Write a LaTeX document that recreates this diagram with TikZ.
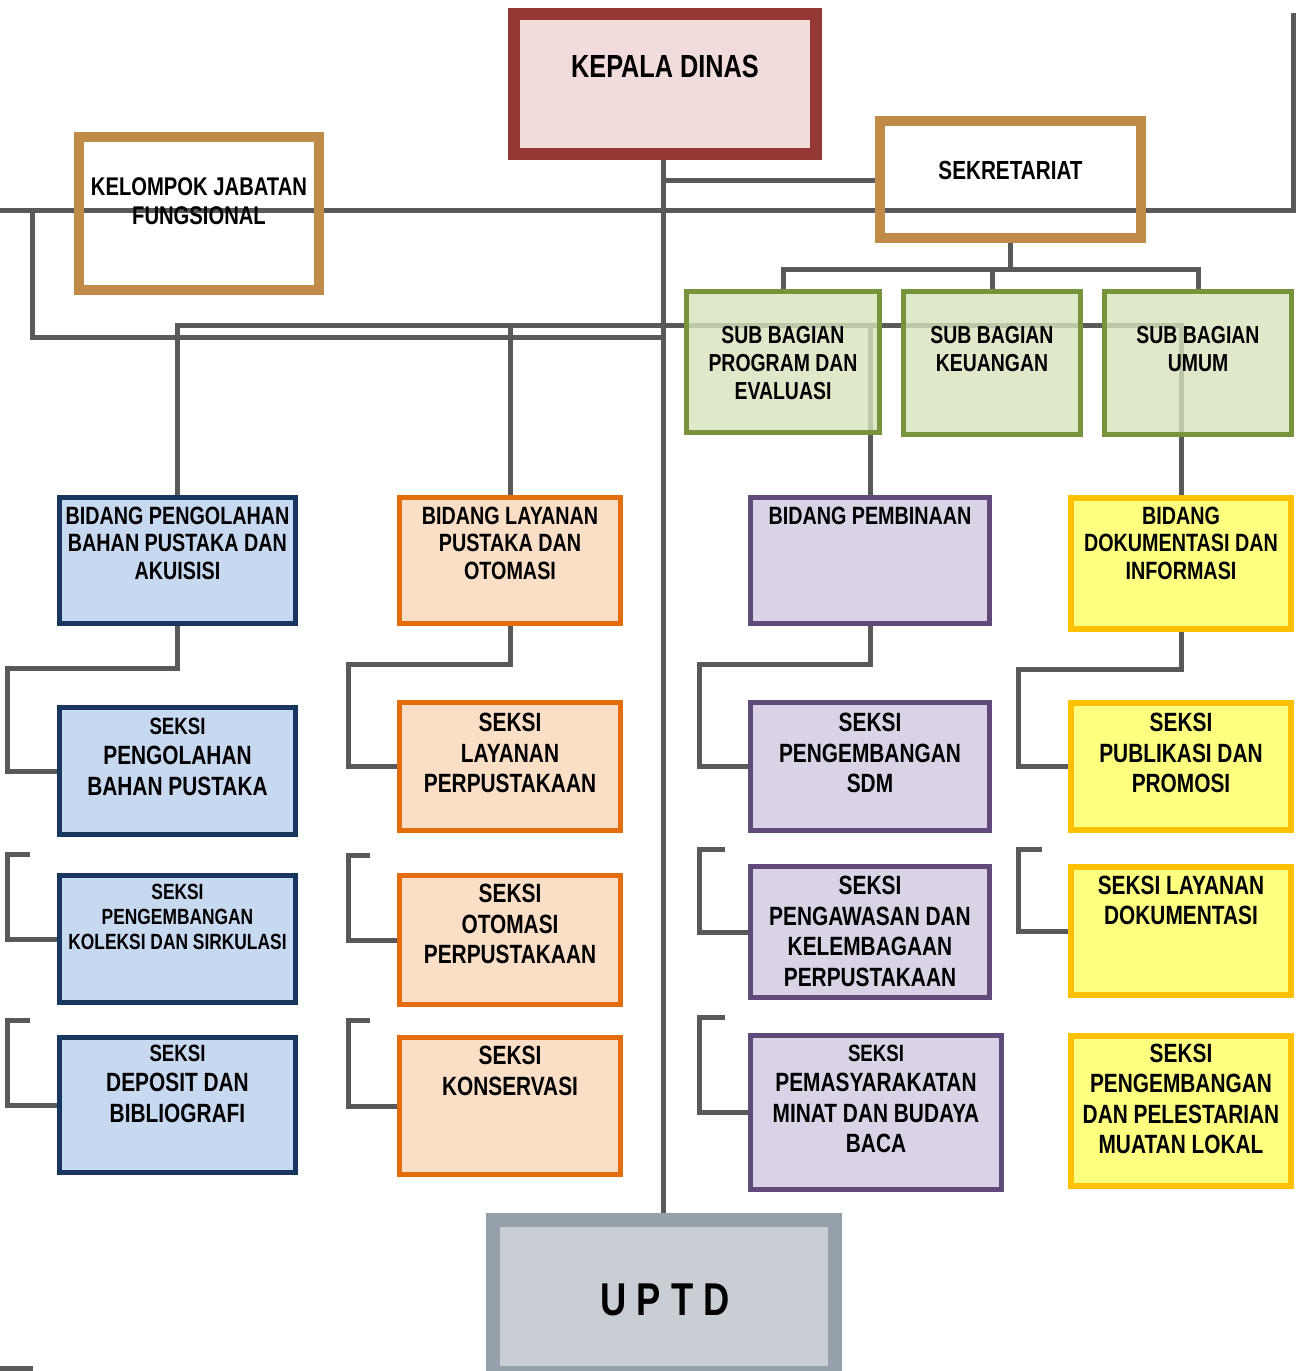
\documentclass[tikz,border=0pt]{standalone}
\usepackage{fontspec}
\setmainfont{Liberation Sans}[FakeStretch=0.79]
\usepackage{tikz}
\usetikzlibrary{positioning,fit,calc}
\usepackage{xcolor}

\definecolor{linegray}{HTML}{595959}
\definecolor{kdred}{HTML}{953735}
\definecolor{kdpink}{HTML}{F2DCDB}
\definecolor{tan}{HTML}{C08A48}
\definecolor{sbgreen}{HTML}{77933C}
\definecolor{sbfill}{HTML}{D7E4BD}
\definecolor{bdblue}{HTML}{17375E}
\definecolor{bdbluefill}{HTML}{C6D9F1}
\definecolor{bdorange}{HTML}{E46C0A}
\definecolor{bdorangefill}{HTML}{FBDEC6}
\definecolor{bdpurple}{HTML}{604A7B}
\definecolor{bdpurplefill}{HTML}{D9D3E5}
\definecolor{bdyellow}{HTML}{FFC000}
\definecolor{bdyellowfill}{HTML}{FFFF80}
\definecolor{uptdgray}{HTML}{95A0A8}
\definecolor{uptdfill}{HTML}{C9CDD4}

\newcommand{\fsKd}{\bfseries\fontsize{16}{19}\selectfont}
\newcommand{\fsSekr}{\bfseries\fontsize{13.1}{15}\selectfont}
\newcommand{\fsKel}{\bfseries\fontsize{12.8}{14.5}\selectfont}
\newcommand{\fsSb}{\bfseries\fontsize{12.3}{14}\selectfont}
\newcommand{\fsBid}{\bfseries\fontsize{12.5}{13.75}\selectfont}
\newcommand{\fsSeksi}{\bfseries\fontsize{13.2}{15.25}\selectfont}
\newcommand{\fsKol}{\bfseries\fontsize{11}{12.5}\selectfont}
\newcommand{\fsSmall}{\fontsize{11.8}{13}\selectfont}
\newcommand{\fsUptd}{\bfseries\fontsize{23}{27}\selectfont}

% box drawn on its border line, text hung from the top
\newcommand{\orgbox}[6][9]{%
  \node[#2, fit={#4}] (#3) {};
  \node[boxtext, font=#5] (#3-txt) at ($(#3.north)+(0,#1+3)$) {#6};
}

\begin{document}
\begin{tikzpicture}[
  x=0.5pt, y=-0.5pt,
  link/.style={draw=linegray, line width=2.5pt},
  unit/.style={rectangle, inner sep=0pt},
  kepala/.style={unit, draw=kdred, fill=kdpink, line width=6pt},
  staf/.style={unit, draw=tan, line width=5pt},
  subbag/.style={unit, draw=sbgreen, fill=sbfill, fill opacity=0.8, line width=2.5pt},
  bluebox/.style={unit, draw=bdblue, fill=bdbluefill, line width=2.5pt},
  orangebox/.style={unit, draw=bdorange, fill=bdorangefill, line width=2.5pt},
  purplebox/.style={unit, draw=bdpurple, fill=bdpurplefill, line width=2.5pt},
  yellowbox/.style={unit, draw=bdyellow, fill=bdyellowfill, line width=3pt},
  uptdbox/.style={unit, draw=uptdgray, fill=uptdfill, line width=7pt},
  boxtext/.style={align=center, inner sep=0pt, anchor=north},
]
\useasboundingbox (0,0) rectangle (1297,1371);

% free ends of the long rails
\coordinate (wl) at (0,210);
\coordinate (ne) at (1293,13);
\coordinate (busA) at (32,337);
\coordinate (busB) at (0,325);
\coordinate (cutA) at (0,1368);
\coordinate (cutB) at (33,1368);

% top
\orgbox[44]{kepala}{kd}{(514,14) (816,154)}{\fsKd}{KEPALA DINAS}
\node[uptdbox, fit={(493,1220) (835,1373)}] (uptd) {};
\node[font=\fsUptd] (uptd-txt) at (665,1300) {U P T D};

% rails behind the boxes
\draw[link] (wl) -- (wl -| ne) -- (ne);
\draw[link] (busA |- wl) -- (busA) -- (663,337);
\draw[link] (663,160) -- (663,1213);
\draw[link] (663,180) -- (880,180);
\draw[link] (cutA) -- (cutB);

\orgbox[42]{staf}{sek}{(880,121) (1141,238)}{\fsSekr}{SEKRETARIAT}
\orgbox[42]{staf}{kel}{(79,137) (319,290)}{\fsKel}{KELOMPOK JABATAN\\FUNGSIONAL}

% bidang
\orgbox[8.5]{bluebox}{bPeng}{(59.5,497.5) (295.5,623.5)}{\fsBid}{BIDANG PENGOLAHAN\\BAHAN PUSTAKA DAN\\AKUISISI}
\orgbox[8.5]{orangebox}{bLay}{(399.5,497.5) (620.5,623.5)}{\fsBid}{BIDANG LAYANAN\\PUSTAKA DAN\\OTOMASI}
\orgbox[8.5]{purplebox}{bPemb}{(750.5,497.5) (989.5,623.5)}{\fsBid}{BIDANG PEMBINAAN}
\orgbox[8.5]{yellowbox}{bDok}{(1071,498) (1291,629)}{\fsBid}{BIDANG\\DOKUMENTASI DAN\\INFORMASI}

\draw[link] (bPeng.north) |- (busB -| bDok.north) -- (bDok.north);
\draw[link] (bLay.north) -- (bLay.north |- busB);
\draw[link] (bPemb.north) -- (bPemb.north |- busB);

% sub bagian
\draw[link] (sek.south) -- ++(0,26) coordinate (sekbus);
\orgbox[34]{subbag}{sbProg}{(686.5,291.5) (879.5,432.5)}{\fsSb}{SUB BAGIAN\\PROGRAM DAN\\EVALUASI}
\orgbox[34]{subbag}{sbKeu}{(903.5,291.5) (1080.5,434.5)}{\fsSb}{SUB BAGIAN\\KEUANGAN}
\orgbox[34]{subbag}{sbUmum}{(1104.5,291.5) (1291.5,434.5)}{\fsSb}{SUB BAGIAN\\UMUM}
\draw[link] (sbProg.north) |- (sekbus) -| (sbUmum.north);
\draw[link] (sbKeu.north) -- (sbKeu.north |- sekbus);

% seksi, first row
\orgbox[9.5]{bluebox}{s11}{(59.5,707.5) (295.5,834.5)}{\fsSeksi}{{\fsSmall SEKSI}\\PENGOLAHAN\\BAHAN PUSTAKA}
\orgbox[10]{orangebox}{s12}{(399.5,702.5) (620.5,830.5)}{\fsSeksi}{SEKSI\\LAYANAN\\PERPUSTAKAAN}
\orgbox[10]{purplebox}{s13}{(750.5,702.5) (989.5,830.5)}{\fsSeksi}{SEKSI\\PENGEMBANGAN\\SDM}
\orgbox[10]{yellowbox}{s14}{(1071,703) (1291,830)}{\fsSeksi}{SEKSI\\PUBLIKASI DAN\\PROMOSI}

\draw[link] (bPeng.south) -- ++(0,42) -| ([xshift=-24.75pt]s11.west) -- (s11.west);
\draw[link] (bLay.south) -- ++(0,38.5) -| ([xshift=-24.25pt]s12.west) -- (s12.west);
\draw[link] (bPemb.south) -- ++(0,38.5) -| ([xshift=-24.25pt]s13.west) -- (s13.west);
\draw[link] (bDok.south) -- ++(0,37) -| ([xshift=-25pt]s14.west) -- (s14.west);

% seksi, second row
\orgbox[7.5]{bluebox}{s21}{(59.5,875.5) (295.5,1002.5)}{\fsKol}{SEKSI\\PENGEMBANGAN\\KOLEKSI DAN SIRKULASI}
\orgbox[8]{orangebox}{s22}{(399.5,875.5) (620.5,1004.5)}{\fsSeksi}{SEKSI\\OTOMASI\\PERPUSTAKAAN}
\orgbox[9]{purplebox}{s23}{(750.5,866.5) (989.5,997.5)}{\fsSeksi}{SEKSI\\PENGAWASAN DAN\\KELEMBAGAAN\\PERPUSTAKAAN}
\orgbox[8.5]{yellowbox}{s24}{(1071,867) (1291,995)}{\fsSeksi}{SEKSI LAYANAN\\DOKUMENTASI}

\draw[link] (s21.west) -| ([xshift=-24.75pt,yshift=42.5pt]s21.west) -- ++(22,0);
\draw[link] (s22.west) -| ([xshift=-24.25pt,yshift=42.5pt]s22.west) -- ++(21,0);
\draw[link] (s23.west) -| ([xshift=-24.25pt,yshift=41.5pt]s23.west) -- ++(25,0);
\draw[link] (s24.west) -| ([xshift=-25pt,yshift=41pt]s24.west) -- ++(24,0);

% seksi, third row
\orgbox[6.5]{bluebox}{s31}{(59.5,1037.5) (295.5,1172.5)}{\fsSeksi}{{\fsSmall SEKSI}\\DEPOSIT DAN\\BIBLIOGRAFI}
\orgbox[8]{orangebox}{s32}{(399.5,1037.5) (620.5,1174.5)}{\fsSeksi}{SEKSI\\KONSERVASI}
\orgbox[8.5]{purplebox}{s33}{(750.5,1035.5) (1001.5,1189.5)}{\fsSeksi}{{\fsSmall SEKSI}\\PEMASYARAKATAN\\MINAT DAN BUDAYA\\BACA}
\orgbox[7.5]{yellowbox}{s34}{(1071,1036) (1291,1186)}{\fsSeksi}{SEKSI\\PENGEMBANGAN\\DAN PELESTARIAN\\MUATAN LOKAL}

\draw[link] (s31.west) -| ([xshift=-24.75pt,yshift=42.5pt]s31.west) -- ++(22,0);
\draw[link] (s32.west) -| ([xshift=-24.25pt,yshift=43pt]s32.west) -- ++(21,0);
\draw[link] (s33.west) -| ([xshift=-24.25pt,yshift=47.75pt]s33.west) -- ++(25,0);

\end{tikzpicture}
\end{document}
